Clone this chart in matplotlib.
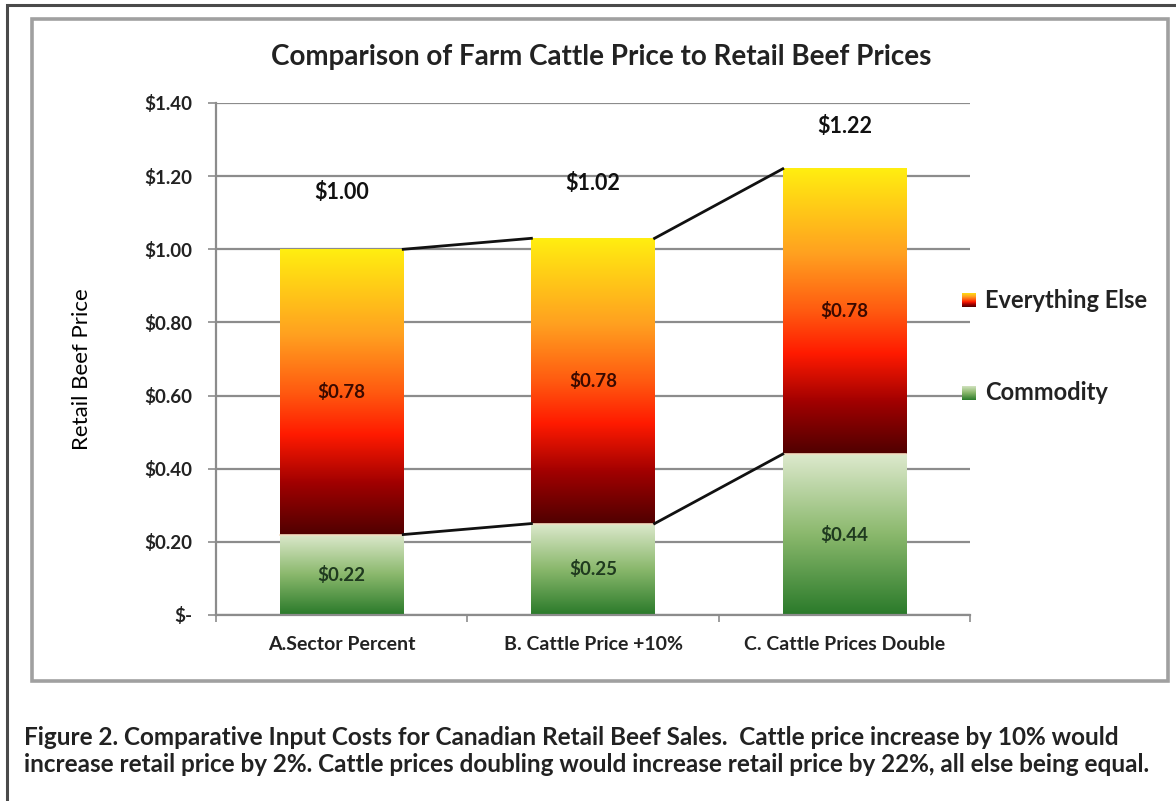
import numpy as np
import matplotlib
matplotlib.use("Agg")
import matplotlib.pyplot as plt
from matplotlib.colors import LinearSegmentedColormap
from matplotlib.patches import Rectangle

# data
scenarios = ["A.Sector Percent", "B. Cattle Price +10%", "C. Cattle Prices Double"]
commodity = [0.22, 0.25, 0.44]
everything_else = [0.78, 0.78, 0.78]
total_labels = ["$1.00", "$1.02", "$1.22"]
total_label_y = [1.155, 1.18, 1.335]
y_ticks = [0, 0.2, 0.4, 0.6, 0.8, 1.0, 1.2, 1.4]
y_tick_labels = ["$-", "$0.20", "$0.40", "$0.60", "$0.80", "$1.00", "$1.20", "$1.40"]

plt.rcParams['font.family'] = ['Lato', 'DejaVu Sans']

# gradients (bottom -> top)
fire = LinearSegmentedColormap.from_list(
    "fire", [(0.0, "#500000"), (0.18, "#a00000"), (0.35, "#ff1a00"),
             (0.5, "#ff5a10"), (0.7, "#ffa020"), (1.0, "#ffee10")])
grass = LinearSegmentedColormap.from_list(
    "grass", [(0.0, "#2a7a2a"), (0.5, "#8ab86c"), (1.0, "#dde9cd")])

fig = plt.figure(figsize=(11.76, 8.01), dpi=100)
W, H = 1176, 801

def px(x0, y0, x1, y1):
    return (x0 / W, 1 - y1 / H, (x1 - x0) / W, (y1 - y0) / H)

# outer and inner frames
l, b, w, h = px(7, 5, 1190, 820)
fig.patches.append(Rectangle((l, b), w, h, transform=fig.transFigure, fill=False,
                             edgecolor="#4a4a4a", linewidth=2.2))
l, b, w, h = px(32, 19, 1168, 681)
fig.patches.append(Rectangle((l, b), w, h, transform=fig.transFigure, fill=False,
                             edgecolor="#a0a0a0", linewidth=2.6))

ax = fig.add_axes(px(216, 103, 970, 615))
x = np.arange(len(scenarios))
bw = 0.49
grad = np.linspace(0, 1, 256).reshape(-1, 1)

bars_c = ax.bar(x, commodity, width=bw, color="none", zorder=2)
bars_e = ax.bar(x, everything_else, width=bw, bottom=commodity, color="none", zorder=2)

for bc, be in zip(bars_c, bars_e):
    x0, x1 = bc.get_x(), bc.get_x() + bc.get_width()
    ax.imshow(grad, extent=[x0, x1, bc.get_y(), bc.get_y() + bc.get_height()],
              origin="lower", aspect="auto", cmap=grass, zorder=2)
    ax.imshow(grad, extent=[x0, x1, be.get_y(), be.get_y() + be.get_height()],
              origin="lower", aspect="auto", cmap=fire, zorder=2)
    # thin light separator
    ax.plot([x0, x1], [be.get_y(), be.get_y()], color="#f3dcc0", lw=1.2, zorder=3)

# series lines between bars
tops = [c + e for c, e in zip(commodity, everything_else)]
for i in range(len(x) - 1):
    xa = bars_c[i].get_x() + bw
    xb = bars_c[i + 1].get_x()
    ax.plot([xa, xb], [commodity[i], commodity[i + 1]], color="#111111", lw=2, zorder=3)
    ax.plot([xa, xb], [tops[i], tops[i + 1]], color="#111111", lw=2, zorder=3)

# value labels
for i in range(len(x)):
    ax.text(x[i], commodity[i] / 2, f"${commodity[i]:.2f}", ha="center", va="center",
            fontsize=13.5, fontweight="bold", color="#1f3a1f", zorder=4)
    ax.text(x[i], commodity[i] + everything_else[i] / 2, f"${everything_else[i]:.2f}",
            ha="center", va="center", fontsize=13.5, fontweight="bold", color="#3a0a00", zorder=4)
    ax.text(x[i], total_label_y[i], total_labels[i], ha="center", va="center",
            fontsize=15.5, fontweight="bold", color="#111111", zorder=4)

ax.set_xlim(-0.5, 2.5)
ax.set_ylim(0, 1.4)
ax.set_yticks(y_ticks)
ax.set_yticklabels(y_tick_labels, fontsize=13.5, fontweight="bold", color="#222222")
ax.yaxis.grid(True, color="#8c8c8c", lw=1.6, zorder=0)
ax.set_axisbelow(True)
ax.set_xticks(x)
ax.set_xticklabels(scenarios, fontsize=14, fontweight="bold", color="#222222")
ax.set_xticks([-0.5, 0.5, 1.5, 2.5], minor=True)
ax.tick_params(axis="x", which="major", length=0, pad=15)
ax.tick_params(axis="x", which="minor", length=5, color="#8c8c8c", width=1.2, direction="out")
ax.tick_params(axis="y", length=6, color="#8c8c8c", width=1.2, direction="out", pad=11)
for s in ["top", "right"]:
    ax.spines[s].set_visible(False)
for s in ["left", "bottom"]:
    ax.spines[s].set_color("#8c8c8c")
    ax.spines[s].set_linewidth(1.6)

ax.set_ylabel("Retail Beef Price", fontsize=16)
ax.yaxis.set_label_coords(-0.165, 0.48)

fig.text(601 / W, 1 - 57 / H, "Comparison of Farm Cattle Price to Retail Beef Prices",
         ha="center", va="center", fontsize=20, fontweight="bold", color="#222222")

# legend with gradient swatches
for (label, cmap, yc) in [("Everything Else", fire, 300), ("Commodity", grass, 393)]:
    sw = fig.add_axes(px(962, yc - 7, 976, yc + 7))
    sw.imshow(grad, origin="lower", aspect="auto", cmap=cmap)
    sw.axis("off")
    fig.text(985 / W, 1 - yc / H, label, ha="left", va="center",
             fontsize=17, fontweight="bold", color="#222222")

caption = ("Figure 2. Comparative Input Costs for Canadian Retail Beef Sales.  Cattle price increase by 10% would\n"
           "increase retail price by 2%. Cattle prices doubling would increase retail price by 22%, all else being equal.")
fig.text(24 / W, 1 - 751 / H, caption, ha="left", va="center", fontsize=17.5,
         fontweight="bold", color="#222222", linespacing=1.2)

fig.savefig("out.png", dpi=100)
